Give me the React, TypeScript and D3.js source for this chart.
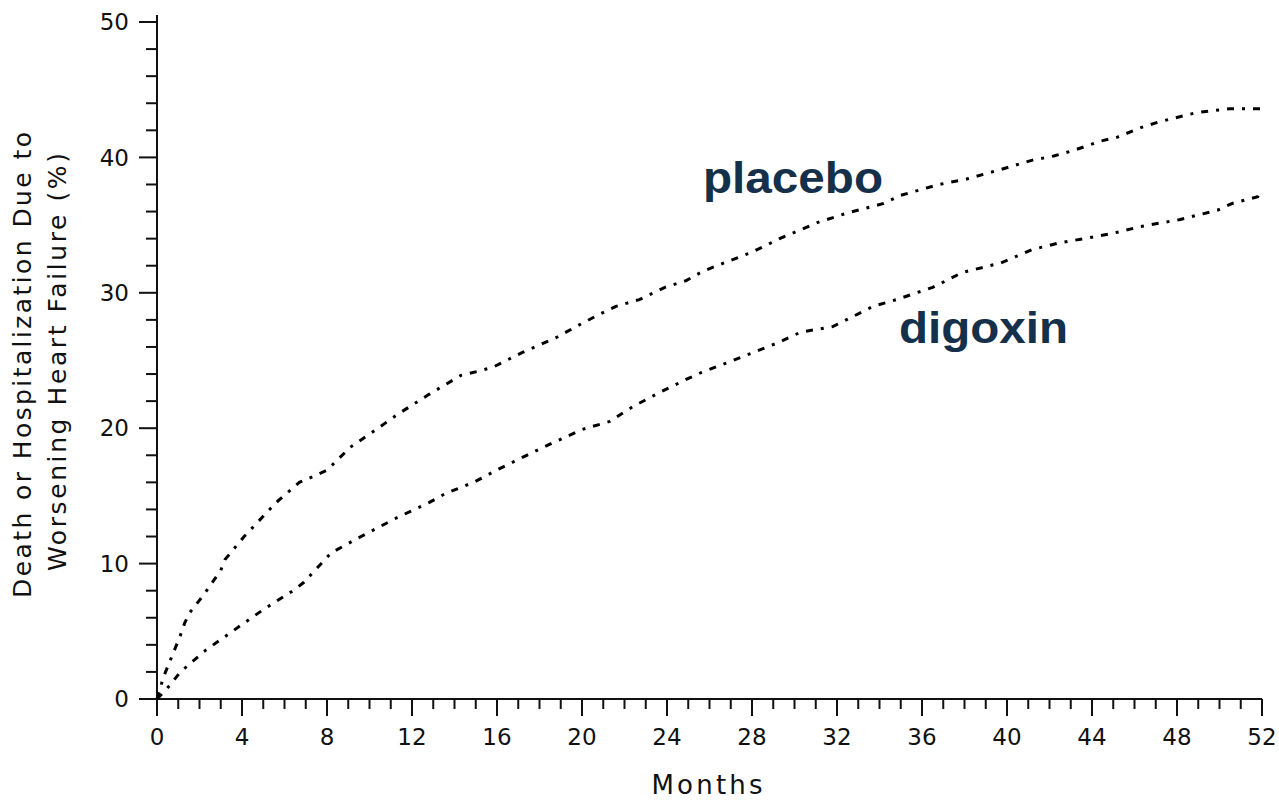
import React from "react";
import * as d3 from "d3";

// Kaplan-Meier style cumulative event curves
const placeboMonths = [0, 0.3, 1.1, 1.3, 1.55, 2.2, 3.0, 3.2, 4.1, 5.6, 6.7, 7.3, 8, 9.1, 10.4, 11.3, 12.2, 12.8, 14.3, 15.1, 15.8, 17.2, 18.8, 19.6, 20.8, 21.6, 22.7, 23.9, 24.9, 25.7, 27.0, 28.0, 29.3, 31.1, 32.5, 34.2, 35.0, 36.8, 38.1, 39.0, 39.7, 41.2, 42.2, 43.1, 44.4, 45.2, 46.3, 47.1, 48.9, 50.5, 52];
const placeboValues = [0, 1.6, 4.7, 5.6, 6.4, 7.7, 9.5, 10.3, 12.0, 14.5, 16.0, 16.4, 16.9, 18.6, 20.0, 21.0, 21.9, 22.5, 23.9, 24.2, 24.5, 25.6, 26.7, 27.4, 28.4, 29.0, 29.5, 30.4, 30.9, 31.6, 32.4, 33.0, 34.0, 35.2, 35.9, 36.6, 37.2, 38.0, 38.4, 38.8, 39.1, 39.8, 40.1, 40.5, 41.2, 41.5, 42.2, 42.6, 43.3, 43.6, 43.6];

const digoxinMonths = [0, 0.6, 1.1, 1.55, 2.2, 3.1, 4.0, 5.0, 6.4, 6.9, 8.2, 9.6, 11.3, 12.8, 13.6, 14.9, 16.1, 17.4, 18.6, 20.0, 21.3, 22.4, 23.6, 24.9, 25.6, 27.1, 29.2, 30.3, 31.8, 33.7, 34.8, 36.5, 37.9, 39.7, 40.6, 41.2, 42.5, 44.0, 45.0, 46.3, 48.1, 49.9, 50.6, 51.8, 51.95];
const digoxinValues = [0, 1.0, 2.0, 2.6, 3.5, 4.5, 5.5, 6.6, 8.0, 8.6, 10.8, 12.0, 13.4, 14.5, 15.2, 16.0, 17.0, 18.0, 18.9, 19.9, 20.5, 21.6, 22.6, 23.6, 24.1, 25.0, 26.3, 27.1, 27.5, 29.0, 29.5, 30.4, 31.5, 32.2, 32.8, 33.2, 33.7, 34.1, 34.4, 34.9, 35.4, 36.1, 36.6, 37.1, 37.6];

const xTickLabels = [0, 4, 8, 12, 16, 20, 24, 28, 32, 36, 40, 44, 48, 52];
const yTickLabels = [0, 10, 20, 30, 40, 50];

const width = 1279;
const height = 803;
const plainFont = "'DejaVu Sans', Verdana, sans-serif";
const labelColor = "#14304b";

export default function App() {
  const x = d3.scaleLinear().domain([0, 52]).range([157, 1262]);
  const y = d3.scaleLinear().domain([0, 50]).range([699, 22]);

  const line = d3.line<[number, number]>()
    .x(d => x(d[0]))
    .y(d => y(d[1]))
    .curve(d3.curveLinear);

  const placebo = placeboMonths.map((m, i) => [m, placeboValues[i]] as [number, number]);
  const digoxin = digoxinMonths.map((m, i) => [m, digoxinValues[i]] as [number, number]);

  const minorX = d3.range(0, 53, 1);
  const minorY = d3.range(0, 51, 2);

  return (
    <svg width={width} height={height} style={{ position: "absolute", left: 0, top: 0, background: "#fff" }}>
      {/* axes */}
      <g stroke="#111" strokeWidth={2} fill="none">
        <line x1={x(0)} x2={x(0)} y1={15} y2={y(0)} />
        <line x1={139} x2={x(52)} y1={y(0)} y2={y(0)} />
        {minorY.map(v => (
          <line key={"yt" + v} x1={x(0) - (v % 10 === 0 ? 18 : 11)} x2={x(0)} y1={y(v)} y2={y(v)} />
        ))}
        {minorX.map(m => (
          <line key={"xt" + m} x1={x(m)} x2={x(m)} y1={y(0)} y2={y(0) + (m % 4 === 0 ? 17 : 10)} />
        ))}
      </g>

      {/* tick labels */}
      <g fontFamily={plainFont} fontSize={23} fill="#111">
        {yTickLabels.map(v => (
          <text key={"yl" + v} x={129} y={y(v)} dy="0.36em" textAnchor="end">{v}</text>
        ))}
        {xTickLabels.map(m => (
          <text key={"xl" + m} x={x(m)} y={745} textAnchor="middle">{m}</text>
        ))}
      </g>

      {/* axis titles */}
      <text x={707} y={794} fontFamily={plainFont} fontSize={26} fill="#111" textAnchor="middle"
        textLength={111} lengthAdjust="spacing">Months</text>
      <g fontFamily={plainFont} fontSize={25} fill="#111">
        <text transform="translate(31,365) rotate(-90)" textAnchor="middle" textLength={466} lengthAdjust="spacing">
          Death or Hospitalization Due to
        </text>
        <text transform="translate(66,362) rotate(-90)" textAnchor="middle" textLength={418} lengthAdjust="spacing">
          Worsening Heart Failure (%)
        </text>
      </g>

      {/* curves */}
      <g fill="none" stroke="#000" strokeWidth={3} strokeDasharray="7 8 3 8">
        <path d={line(placebo) || ""} />
        <path d={line(digoxin) || ""} />
      </g>

      {/* series labels */}
      <g fontFamily="'Liberation Sans', Arial, sans-serif" fontWeight="bold" fontSize={45} fill={labelColor}>
        <text x={703} y={193} textLength={180} lengthAdjust="spacingAndGlyphs">placebo</text>
        <text x={899} y={343} textLength={169} lengthAdjust="spacingAndGlyphs">digoxin</text>
      </g>
    </svg>
  );
}
